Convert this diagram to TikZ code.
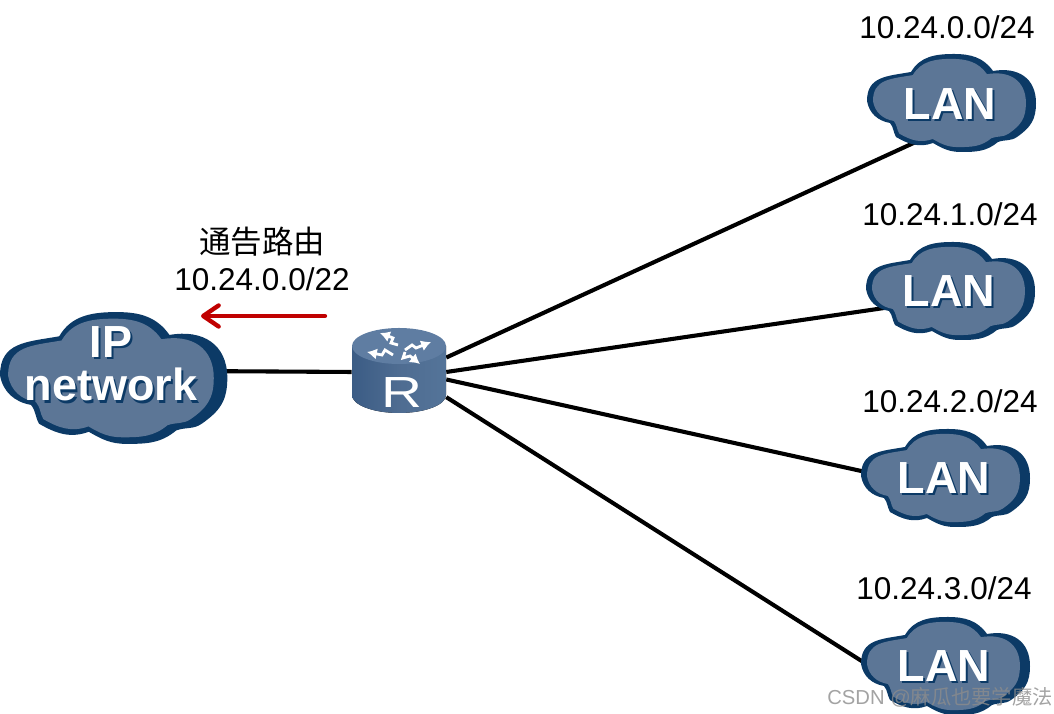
\documentclass[tikz,border=0pt]{standalone}
\usepackage{fontspec}
\setmainfont{Liberation Sans}
\newfontfamily\cjkfont{Noto Sans CJK SC}
\usetikzlibrary{arrows.meta,backgrounds}
\definecolor{cloudedge}{HTML}{0C3A66}
\definecolor{cloudfill}{HTML}{5C7696}
\definecolor{routerdark}{HTML}{3B5C85}
\definecolor{routerlight}{HTML}{547499}
\definecolor{routertop}{HTML}{5F7DA2}
\definecolor{arrowred}{HTML}{C00000}
\newcommand{\shadowed}[1]{\makebox[0pt][l]{\kern1.5pt\raisebox{-1.5pt}{\textcolor{cloudedge}{#1}}}#1}
\tikzset{
  link/.style={line width=2.9pt, black},
  addr/.style={inner sep=0pt, font=\fontsize{22.4}{26}\selectfont},
  cloudtext/.style={inner sep=0pt, text=white, font=\fontsize{32}{31}\selectfont\bfseries},
  routerarrow/.style={white, line width=2pt, -{Latex[length=7pt,width=8pt]}},
  cloudshape/.pic={
    \def\cloudpath{(-84,2) to[out=90,in=190,looseness=1.2] (-40,31) to[out=60,in=180] (3,49) to[out=0,in=125] (42,32)
      to[out=10,in=90,looseness=1.2] (85,0) to[out=-90,in=35,looseness=1.1] (66,-34) to[out=215,in=20] (47,-39)
      to[out=-140,in=0] (10,-49) to[out=180,in=-30] (-18,-40) to[out=200,in=-30] (-55,-34)
      to[out=120,in=-50] (-61,-20) to[out=170,in=-80] cycle}
    \fill[cloudedge] \cloudpath;
    \fill[cloudfill, shift={(-2,0)}, xscale=.905, yscale=.9] \cloudpath;
  }
}
\begin{document}
\begin{tikzpicture}[x=0.025cm, y=0.025cm]
  \useasboundingbox (0,0) rectangle (1054,714);

  % Clouds
  \pic[scale=1.345] at (113,336) {cloudshape};
  \pic at (951,611) {cloudshape};
  \pic at (950,423) {cloudshape};
  \pic at (945,236) {cloudshape};
  \pic at (945,48) {cloudshape};

  % Cloud labels
  \node[cloudtext, align=center] (ipnet) at (111,349) {\shadowed{IP}\\\shadowed{network}};
  \node[cloudtext] (lan0) at (950,609) {\shadowed{LAN}};
  \node[cloudtext] (lan1) at (949,422) {\shadowed{LAN}};
  \node[cloudtext] (lan2) at (944,235) {\shadowed{LAN}};
  \node[cloudtext] (lan3) at (944,47) {\shadowed{LAN}};

  % Router
  \fill[left color=routerdark, right color=routerlight, middle color=routerdark!90!white]
    (352,368) -- (352,319) arc[start angle=180, end angle=360, x radius=47, y radius=18] -- (446,368) -- cycle;
  \fill[routertop] (399,368) ellipse[x radius=47, y radius=18];
  \draw[routerarrow] (398,369) -- (391,371) -- (393,376) -- (380,381);
  \draw[routerarrow] (405,364) -- (412,369) -- (416,366) -- (431,372);
  \draw[routerarrow] (393,359) -- (385,364) -- (382,359) -- (367,362);
  \draw[routerarrow] (405,362) -- (403,356) -- (410,358) -- (420,350);
  \node[minimum width=2.35cm, minimum height=2.1cm, inner sep=0pt] (router) at (399,342) {};
  \node[inner sep=0pt, white, font=\fontsize{31}{31}\selectfont] (routername) at (402,321) {\scalebox{1.3}[1]{R}};

  % Links
  \begin{scope}[on background layer]
    \draw[link] (ipnet.-4.7) -- (router.west);
    \draw[link] (router.17.7) -- (lan0.-60);
    \draw[link] (router.0) -- (lan1.196.5);
    \draw[link] (router.-9.7) -- (lan2.west);
    \draw[link] (router.-28) -- (lan3.south west);
  \end{scope}

  % Addresses
  \node[addr] (addr0) at (947,687) {10.24.0.0/24};
  \node[addr] (addr1) at (950,500) {10.24.1.0/24};
  \node[addr] (addr2) at (950,313) {10.24.2.0/24};
  \node[addr] (addr3) at (944,126) {10.24.3.0/24};

  % Advertised route
  \node[inner sep=0pt, font=\fontsize{22.4}{26}\selectfont\cjkfont] (advert) at (262,472) {通告路由};
  \node[addr] (summary) at (262,435) {10.24.0.0/22};
  \coordinate (arrowtail) at (325,398);
  \coordinate (arrowhead) at (201,398);
  \draw[arrowred, line width=3.1pt, line cap=round, -{Straight Barb[length=11pt,width=15pt,round]}] (arrowtail) -- (arrowhead);

  % Watermark
  \node[inner sep=0pt, text=black!45, text opacity=.8, font=\fontsize{14.4}{16}\selectfont] (mark) at (940,17) {CSDN @{\cjkfont 麻瓜也要学魔法}};
\end{tikzpicture}
\end{document}
